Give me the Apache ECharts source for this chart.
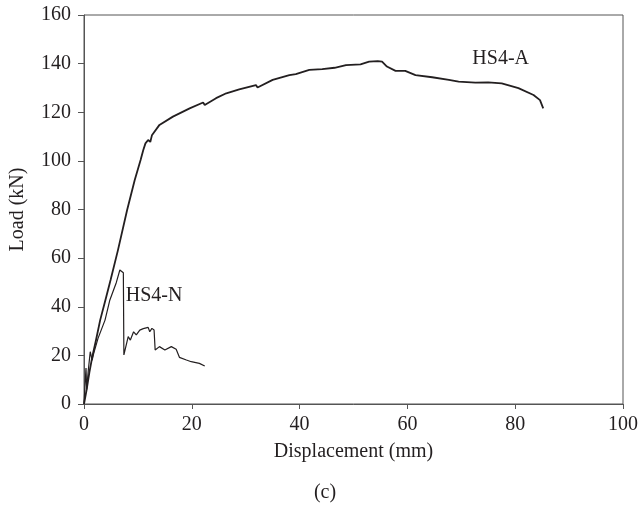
<!DOCTYPE html>
<html>
<head>
<meta charset="utf-8">
<script src="https://cdn.jsdelivr.net/npm/echarts@6/dist/echarts.min.js"></script>
<style>html,body{margin:0;padding:0;background:#fff;}#c{width:641px;height:506px;}</style>
</head>
<body>
<div id="c"></div>
<script>
var xTicks = [0, 20, 40, 60, 80, 100];
var yTicks = [0, 20, 40, 60, 80, 100, 120, 140, 160];
var seriesNames = ['HS4-A', 'HS4-N'];

var hs4aX = [0, 0.5, 1.0, 1.5, 2.2, 3.0, 4.0, 4.93, 6.3, 8.0, 9.4, 10.5, 11.0, 11.4, 11.9, 12.3, 12.6, 14.0, 16.5, 19.6, 22.1, 22.4, 24.5, 26.4, 28.8, 31.9, 32.2, 35.0, 38.1, 39.3, 41.8, 44.2, 46.5, 48.6, 51.3, 51.6, 52.9, 54.5, 55.3, 56.2, 57.8, 59.6, 61.5, 64.6, 67.7, 69.5, 72.6, 75.0, 77.5, 80.6, 83.4, 84.6, 85.2];
var hs4aY = [0, 6, 13, 19, 26, 34.5, 43, 51, 63.3, 79.8, 92, 100.4, 104.5, 107.2, 108.6, 107.8, 110.5, 114.8, 118.2, 121.6, 124, 123, 125.8, 127.8, 129.4, 131.2, 130.2, 133.3, 135.3, 135.7, 137.4, 137.7, 138.3, 139.4, 139.7, 139.2, 140.8, 141.0, 140.8, 138.8, 137, 137, 135.3, 134.4, 133.3, 132.6, 132.2, 132.3, 131.9, 129.9, 127.1, 125, 121.6];

var hs4nX = [0, 0.2, 0.37, 0.5, 0.8, 1.16, 1.5, 1.8, 2.6, 3.9, 4.8, 6.0, 6.65, 6.96, 7.3, 7.4, 8.2, 8.6, 9.2, 9.7, 10.35, 11.0, 11.9, 12.2, 12.6, 13.0, 13.2, 14.0, 15.0, 16.2, 17.1, 17.7, 19.0, 19.9, 21.4, 22.4];
var hs4nY = [0, 8, 14.8, 6, 14, 21.5, 18, 20.8, 27, 34.5, 42.8, 50, 55.1, 55, 54, 20.2, 27.7, 26.3, 29.7, 28.4, 30.4, 31, 31.5, 29.7, 31.1, 30.4, 22.2, 23.6, 22.2, 23.6, 22.5, 19.2, 18.1, 17.4, 16.7, 15.6];

function pairs(xs, ys) { return xs.map(function (x, i) { return [x, ys[i]]; }); }

var font = '"Liberation Serif","DejaVu Serif",serif';
var txt = '#231f20';
var axisCol = '#555555';
var fs = 20;

var chart = echarts.init(document.getElementById('c'), null, {renderer: 'canvas'});
chart.setOption({
  animation: false,
  backgroundColor: '#ffffff',
  title: {
    text: '(c)', left: 320, top: 478, textAlign: 'center',
    textStyle: {fontFamily: font, fontSize: fs, fontWeight: 'normal', color: txt}
  },
  grid: {left: 84, right: 16, top: 15, bottom: 102, show: true, borderColor: axisCol, borderWidth: 1},
  xAxis: {
    type: 'value', min: xTicks[0], max: xTicks[xTicks.length - 1], interval: 20,
    name: 'Displacement (mm)', nameLocation: 'middle', nameGap: 38,
    nameTextStyle: {fontFamily: font, fontSize: fs, color: txt},
    axisLine: {show: true, lineStyle: {color: axisCol, width: 1}},
    axisTick: {show: true, length: 5, inside: false, lineStyle: {color: axisCol}},
    axisLabel: {fontFamily: font, fontSize: fs, color: txt, margin: 11},
    splitLine: {show: false}
  },
  yAxis: {
    type: 'value', min: yTicks[0], max: yTicks[yTicks.length - 1], interval: 20,
    name: 'Load (kN)', nameLocation: 'middle', nameGap: 56, nameRotate: 90,
    nameTextStyle: {fontFamily: font, fontSize: fs, color: txt},
    axisLine: {show: true, lineStyle: {color: axisCol, width: 1}},
    axisTick: {show: true, length: 6, inside: false, lineStyle: {color: axisCol}},
    axisLabel: {fontFamily: font, fontSize: fs, color: txt, margin: 13},
    splitLine: {show: false}
  },
  series: [
    {
      name: seriesNames[0], type: 'line', data: pairs(hs4aX, hs4aY), showSymbol: false,
      lineStyle: {color: '#231f20', width: 1.8},
      markPoint: {
        symbol: 'rect', symbolSize: 1, itemStyle: {color: 'transparent'},
        label: {show: true, formatter: seriesNames[0], fontFamily: font, fontSize: fs, color: txt},
        data: [{coord: [77.3, 142]}]
      }
    },
    {
      name: seriesNames[1], type: 'line', data: pairs(hs4nX, hs4nY), showSymbol: false,
      lineStyle: {color: '#231f20', width: 1.2},
      markPoint: {
        symbol: 'rect', symbolSize: 1, itemStyle: {color: 'transparent'},
        label: {show: true, formatter: seriesNames[1], fontFamily: font, fontSize: fs, color: txt},
        data: [{coord: [13.0, 44.5]}]
      }
    }
  ]
});
</script>
</body>
</html>
